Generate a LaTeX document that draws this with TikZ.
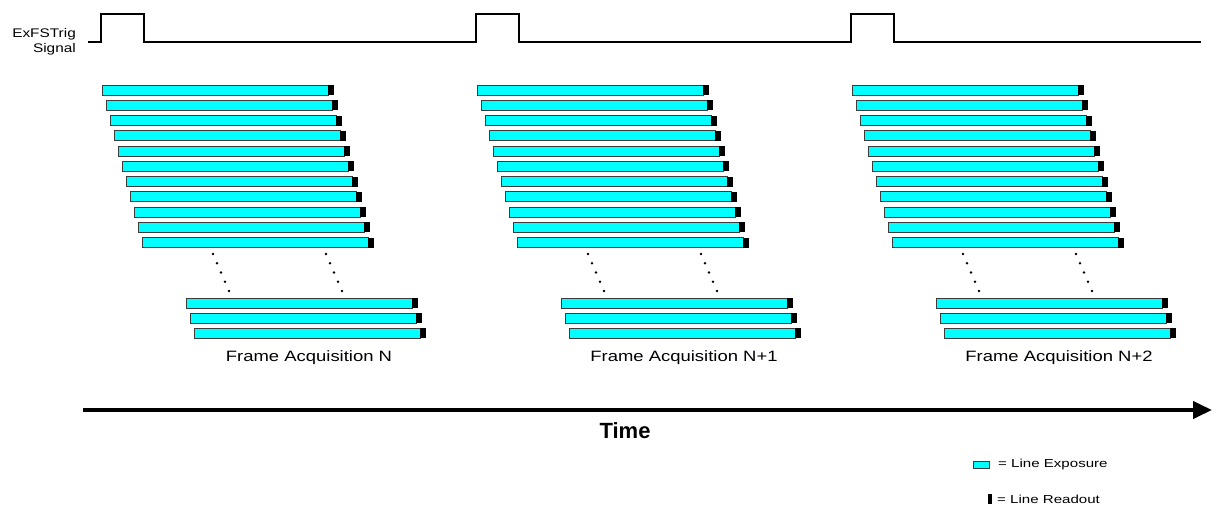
\documentclass[tikz,border=0pt]{standalone}
\usepackage{fontspec}
\setmainfont{Liberation Sans}
\usepackage{xcolor}
\usepackage{graphicx}
\usepackage{tikz}
\usetikzlibrary{arrows.meta}

\definecolor{expcyan}{RGB}{0,255,255}
\definecolor{barline}{RGB}{60,60,60}

% horizontally widened text, as in the reference
\newcommand{\widetext}[2]{\scalebox{#1}[1]{#2}}

\tikzset{
    expbar/.style={fill=expcyan, draw=barline, line width=0.8pt},
    readbar/.style={fill=black},
    seqdot/.style={fill=black},
    lbl/.style={font=\fontsize{15}{17}\selectfont, anchor=base, inner sep=0pt},
    legtext/.style={font=\fontsize{11.6}{13}\selectfont, anchor=west, inner sep=0pt}
}

\begin{document}
\begin{tikzpicture}[x=1pt, y=-1pt, >=Triangle]
    \useasboundingbox (0,0) rectangle (1213,506);

    % Trigger signal
    \draw[line width=2.2pt] (88,42) -- (101,42) -- (101,14) -- (144,14) -- (144,42)
        -- (476,42) -- (476,14) -- (519,14) -- (519,42)
        -- (851,42) -- (851,14) -- (894,14) -- (894,42) -- (1201,42);
    \node[align=right, anchor=east, inner sep=0pt, font=\fontsize{12.5}{15}\selectfont] (sig) at (76,42)
        {\widetext{1.23}{ExFSTrig}\\\widetext{1.23}{Signal}};

    % Line exposures of the three frames
    \foreach \g in {0,1,2} {
        \pgfmathsetmacro{\ox}{375*\g}
        \foreach \i in {0,...,10} {
            \pgfmathsetmacro{\bx}{\ox+102+4*\i}
            \pgfmathsetmacro{\by}{90+15.27*\i}
            \filldraw[expbar] (\bx,\by-5) rectangle (\bx+226,\by+5);
            \fill[readbar] (\bx+226,\by-5) rectangle (\bx+232,\by+5);
        }
        \foreach \i in {0,1,2} {
            \pgfmathsetmacro{\bx}{\ox+186+4*\i}
            \pgfmathsetmacro{\by}{303+15*\i}
            \filldraw[expbar] (\bx,\by-5) rectangle (\bx+226,\by+5);
            \fill[readbar] (\bx+226,\by-5) rectangle (\bx+232,\by+5);
        }
        % dotted continuation
        \foreach \k in {0,...,4} {
            \fill[seqdot] (\ox+213+4*\k, 254+9.25*\k) circle (1.3);
            \fill[seqdot] (\ox+326+4*\k, 254+9.25*\k) circle (1.3);
        }
    }

    % Frame labels
    \node[lbl] (acqN) at (309,361) {\widetext{1.23}{Frame Acquisition N}};
    \node[lbl] (acqNa) at (684,361) {\widetext{1.23}{Frame Acquisition N+1}};
    \node[lbl] (acqNb) at (1059,361) {\widetext{1.23}{Frame Acquisition N+2}};

    % Time axis
    \coordinate (tstart) at (83,410);
    \coordinate (tend) at (1212,410);
    \draw[line width=4pt, -{Triangle[length=19pt, width=17pt]}] (tstart) -- (tend);
    \node[font=\bfseries\fontsize{22}{25}\selectfont, anchor=base] (time) at (625,438) {Time};

    % Legend
    \filldraw[expbar] (973,461) rectangle (989,468);
    \node[legtext] (legexp) at (998,464.5) {\widetext{1.3}{= Line Exposure}};
    \fill[readbar] (988,494) rectangle (992,504);
    \node[legtext] (legread) at (997,499.5) {\widetext{1.3}{= Line Readout}};
\end{tikzpicture}
\end{document}
